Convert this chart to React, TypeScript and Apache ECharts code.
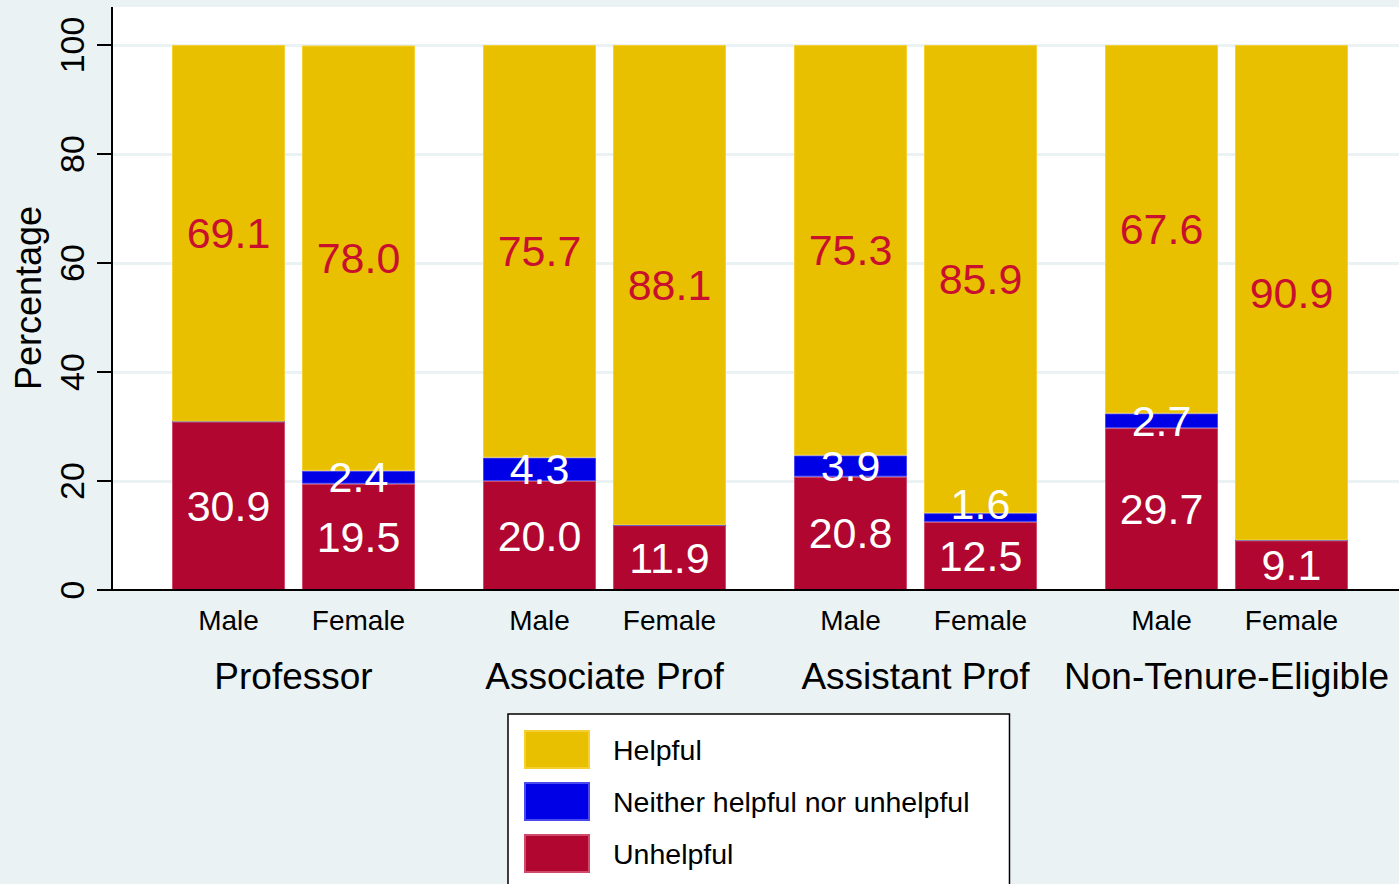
import React, { useEffect, useRef } from "react";
import * as echarts from "echarts";

const categories = ["Professor", "Associate Prof", "Assistant Prof", "Non-Tenure-Eligible"];
const sexLabels = ["Male", "Female"];
const legendNames = ["Helpful", "Neither helpful nor unhelpful", "Unhelpful"];

const maleUnhelpful = [30.9, 20.0, 20.8, 29.7];
const maleNeither = [0, 4.3, 3.9, 2.7];
const maleHelpful = [69.1, 75.7, 75.3, 67.6];
const femaleUnhelpful = [19.5, 11.9, 12.5, 9.1];
const femaleNeither = [2.4, 0, 1.6, 0];
const femaleHelpful = [78.0, 88.1, 85.9, 90.9];

const yTicks = [0, 20, 40, 60, 80, 100];

const FONT = "'Liberation Sans', Arial, Helvetica, sans-serif";
const GOLD = "#e8c000";
const BLUE = "#0000e6";
const RED = "#b0062f";
const LABEL_RED = "#c8102e";
const BG = "#eaf2f3";

export default function App() {
  const ref = useRef<HTMLDivElement>(null);

  useEffect(() => {
    if (!ref.current) return;
    const chart = echarts.init(ref.current, undefined, { renderer: "svg" });

    const fmt = (p: any) => {
      const v = typeof p.value === "number" ? p.value : Number(p.value);
      return v > 0 ? v.toFixed(1) : "";
    };

    const mkSeries = (
      name: string,
      stack: string,
      data: any[],
      color: string,
      border: string,
      labelColor: string
    ) => ({
      type: "bar",
      name,
      stack,
      xAxisIndex: 0,
      yAxisIndex: 0,
      data,
      barWidth: 113,
      barGap: "15%",
      itemStyle: { color, borderColor: border, borderWidth: 1 },
      label: {
        show: true,
        position: "inside",
        color: labelColor,
        fontSize: 43,
        fontFamily: FONT,
        formatter: fmt,
      },
      emphasis: { disabled: true },
    });

    const femaleNeitherData = femaleNeither.map((v, i) =>
      i === 2 ? { value: v, label: { offset: [0, -14] } } : v
    );

    const option: any = {
      animation: false,
      backgroundColor: BG,
      textStyle: { fontFamily: FONT },
      graphic: [
        {
          type: "rect",
          z: -10,
          shape: { x: 112, y: 7, width: 1287, height: 583 },
          style: { fill: "#ffffff" },
          silent: true,
        },
        {
          type: "line",
          z: 5,
          shape: { x1: 112, y1: 7, x2: 112, y2: 46 },
          style: { stroke: "#000", lineWidth: 2 },
          silent: true,
        },
        {
          type: "text",
          x: 28,
          y: 298,
          rotation: Math.PI / 2,
          style: {
            text: "Percentage",
            fontSize: 36,
            fontFamily: FONT,
            fill: "#000",
            textAlign: "center",
            textVerticalAlign: "middle",
          },
          silent: true,
        },
      ],
      grid: [
        { left: 138, top: 45, width: 1244, height: 545 },
        { left: 112, top: 45, width: 1287, height: 545 },
      ],
      xAxis: [
        {
          type: "category",
          gridIndex: 0,
          data: categories,
          axisLine: { show: false },
          axisTick: { show: false },
          splitLine: { show: false },
          axisLabel: {
            interval: 0,
            margin: 13,
            color: "#000",
            formatter: (v: string) =>
              `{s|${sexLabels[0]}}{s|${sexLabels[1]}}\n{g|${v}}`,
            rich: {
              s: {
                fontSize: 28,
                fontFamily: FONT,
                color: "#000",
                width: 130,
                align: "center",
                lineHeight: 34,
              },
              g: {
                fontSize: 37,
                fontFamily: FONT,
                color: "#000",
                align: "center",
                lineHeight: 78,
              },
            },
          },
        },
        {
          type: "value",
          gridIndex: 1,
          min: 0,
          max: 1,
          z: 5,
          axisLine: { show: true, lineStyle: { color: "#000", width: 2 } },
          axisTick: { show: false },
          axisLabel: { show: false },
          splitLine: { show: false },
        },
      ],
      yAxis: [
        {
          type: "value",
          gridIndex: 0,
          min: 0,
          max: 100,
          show: false,
          splitLine: { show: false },
        },
        {
          type: "value",
          gridIndex: 1,
          min: yTicks[0],
          max: yTicks[yTicks.length - 1],
          interval: 20,
          axisLine: { show: true, lineStyle: { color: "#000", width: 2 } },
          axisTick: { show: true, length: 15, lineStyle: { color: "#000", width: 2 } },
          axisLabel: {
            rotate: 90,
            margin: 23,
            fontSize: 34,
            fontFamily: FONT,
            color: "#000",
          },
          splitLine: { show: true, lineStyle: { color: BG, width: 3 } },
        },
      ],
      legend: {
        orient: "vertical",
        left: 508,
        top: 714,
        height: 240,
        itemWidth: 64,
        itemHeight: 37,
        itemGap: 13,
        padding: [16, 40, 16, 16],
        backgroundColor: "#fff",
        borderColor: "#000",
        borderWidth: 1.5,
        borderRadius: 0,
        icon: "rect",
        selectedMode: false,
        data: legendNames,
        textStyle: {
          fontSize: 28.5,
          fontFamily: FONT,
          color: "#000",
          padding: [0, 0, 0, 19],
        },
      },
      series: [
        mkSeries(legendNames[2], "male", maleUnhelpful, RED, "#d04a6a", "#fff"),
        mkSeries(legendNames[1], "male", maleNeither, BLUE, "#4a4af0", "#fff"),
        mkSeries(legendNames[0], "male", maleHelpful, GOLD, "#f5d030", LABEL_RED),
        mkSeries(legendNames[2], "female", femaleUnhelpful, RED, "#d04a6a", "#fff"),
        mkSeries(legendNames[1], "female", femaleNeitherData, BLUE, "#4a4af0", "#fff"),
        mkSeries(legendNames[0], "female", femaleHelpful, GOLD, "#f5d030", LABEL_RED),
      ],
    };

    chart.setOption(option);
    return () => chart.dispose();
  }, []);

  return (
    <div
      ref={ref}
      style={{ position: "fixed", left: 0, top: 0, width: 1399, height: 884 }}
    />
  );
}
